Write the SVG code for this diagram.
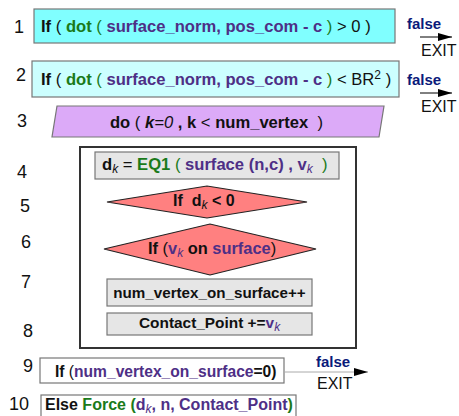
<svg xmlns="http://www.w3.org/2000/svg" width="459" height="416" viewBox="0 0 459 416">
  <style>
    text { font-family: "Liberation Sans", Arial, sans-serif; white-space: pre; }
    .num { font-size: 18px; fill: #111; }
    .t { font-size: 16px; font-weight: bold; fill: #111; }
    .g { fill: #1a7a1a; }
    .p { fill: #4e2f86; }
    .n { font-weight: normal; }
    .i { font-style: italic; }
    .f { font-size: 15px; font-weight: bold; fill: #0a1a7a; }
    .x { font-size: 16px; fill: #111; }
    .box { stroke: #777; stroke-width: 1.2; }
    .gray { fill: #e6e6e6; stroke: #777; stroke-width: 1.2; }
    .dia { fill: #ff8080; stroke: #222; stroke-width: 1.2; }
    .sub { font-size: 12px; }
  </style>
  <defs>
    <marker id="ah" markerWidth="14" markerHeight="8" refX="14" refY="4" orient="auto" markerUnits="userSpaceOnUse">
      <path d="M0,0 L14,4 L0,8 Z" fill="#000"/>
    </marker>
  </defs>

  <!-- line numbers -->
  <g id="line-numbers">
    <text class="num" x="14" y="33">1</text>
    <text class="num" x="16" y="81">2</text>
    <text class="num" x="17" y="127">3</text>
    <text class="num" x="17" y="178">4</text>
    <text class="num" x="20" y="212">5</text>
    <text class="num" x="21" y="248">6</text>
    <text class="num" x="21" y="288">7</text>
    <text class="num" x="23" y="337">8</text>
    <text class="num" x="23" y="372">9</text>
    <text class="num" x="9" y="410">10</text>
  </g>

  <!-- step 1 -->
  <g id="cond1">
    <rect class="box" x="34" y="9" width="361" height="34" fill="#80ffff"/>
    <text class="t" x="41" y="32" style="font-size:16.6px">If <tspan class="n">( </tspan><tspan class="g">dot</tspan><tspan class="g n"> ( </tspan><tspan class="p">surface_norm, pos_com - c </tspan><tspan class="g n">)</tspan><tspan class="n"> &gt; 0 )</tspan></text>
  </g>

  <!-- step 2 -->
  <g id="cond2">
    <rect class="box" x="32" y="61" width="367" height="36" fill="#ccffff"/>
    <text class="t" x="41" y="85" style="font-size:16.6px">If <tspan class="n">( </tspan><tspan class="g">dot</tspan><tspan class="g n"> ( </tspan><tspan class="p">surface_norm, pos_com - c </tspan><tspan class="g n">)</tspan><tspan class="n"> &lt; BR</tspan><tspan class="n sub" dy="-6">2</tspan><tspan class="n" dy="6"> )</tspan></text>
  </g>

  <!-- step 3: loop header -->
  <g id="loop-head">
    <polygon class="box" points="57,106 384,106 379,137 52,137" fill="#dcaaf8"/>
    <text class="t" x="216.5" y="128" text-anchor="middle" style="font-size:16.6px">do <tspan class="n">( </tspan><tspan class="i">k</tspan><tspan class="i n">=0</tspan> , k <tspan class="n">&lt;</tspan> num_vertex  <tspan class="n">)</tspan></text>
  </g>

  <!-- loop body frame -->
  <g id="loop-body">
    <rect x="80" y="147" width="276" height="201" fill="#fff" stroke="#333" stroke-width="2"/>
  </g>

  <!-- step 4 -->
  <g id="eq1">
    <rect class="gray" x="95" y="152" width="244" height="27"/>
    <text class="t" x="102" y="170" style="font-size:16.6px">d<tspan class="i n sub" dy="3">k</tspan><tspan class="n" dy="-3"> = </tspan><tspan class="g">EQ1</tspan><tspan class="g n"> ( </tspan><tspan class="p">surface (n,c) , v</tspan><tspan class="p i n sub" dy="3">k</tspan><tspan class="g n" dy="-3">  )</tspan></text>
  </g>

  <!-- step 5 -->
  <g id="test-dk">
    <polygon class="dia" points="107,202 207,186 307,202 207,218"/>
    <text class="t" x="173" y="206">If  d<tspan class="i n sub" dy="3">k</tspan><tspan dy="-3"> &lt; 0</tspan></text>
  </g>

  <!-- step 6 -->
  <g id="test-on-surface">
    <polygon class="dia" points="104,249 210,224 316,249 210,275"/>
    <text class="t" x="148" y="254" style="font-size:16.4px">If <tspan class="n">(</tspan><tspan class="p">v</tspan><tspan class="p i n sub" dy="3">k</tspan><tspan dy="-3"> on </tspan><tspan class="p">surface</tspan><tspan class="n">)</tspan></text>
  </g>

  <!-- step 7 -->
  <g id="count">
    <rect class="gray" x="107" y="279" width="205" height="27"/>
    <text class="t" x="209.5" y="298" text-anchor="middle" style="font-size:15.2px">num_vertex_on_surface++</text>
  </g>

  <!-- step 8 -->
  <g id="accumulate">
    <rect class="gray" x="107" y="313" width="205" height="22"/>
    <text class="t" x="139" y="328" style="font-size:15.4px">Contact_Point +=<tspan class="p">v</tspan><tspan class="p i n sub" dy="3">k</tspan></text>
  </g>

  <!-- step 9 -->
  <g id="cond-none">
    <rect class="box" x="40" y="358" width="244" height="25" fill="#fff"/>
    <text class="t" x="55" y="377" style="font-size:15.6px">If <tspan class="n">(</tspan><tspan class="p">num_vertex_on_surface</tspan>=0)</text>
  </g>

  <!-- step 10 -->
  <g id="force">
    <rect class="box" x="41" y="395" width="255" height="30" fill="#fff"/>
    <text class="t" x="45" y="410" style="font-size:16px">Else <tspan class="g">Force</tspan><tspan class="g"> (</tspan><tspan class="p">d</tspan><tspan class="p i n sub" dy="3">k</tspan><tspan class="p" dy="-3">, n, Contact_Point</tspan><tspan class="g">)</tspan></text>
  </g>

  <!-- exit branches -->
  <g id="connectors">
    <line x1="420" y1="37" x2="452" y2="37" stroke="#000" stroke-width="1" marker-end="url(#ah)"/>
    <line x1="420" y1="93" x2="452" y2="93" stroke="#000" stroke-width="1" marker-end="url(#ah)"/>
    <line x1="284" y1="372" x2="368" y2="372" stroke="#aaa" stroke-width="1" marker-end="url(#ah)"/>
    <text class="f" x="407" y="29">false</text>
    <text class="x" x="421" y="56">EXIT</text>
    <text class="f" x="407" y="85">false</text>
    <text class="x" x="421" y="112">EXIT</text>
    <text class="f" x="316" y="367">false</text>
    <text class="x" x="317" y="389">EXIT</text>
  </g>
</svg>
